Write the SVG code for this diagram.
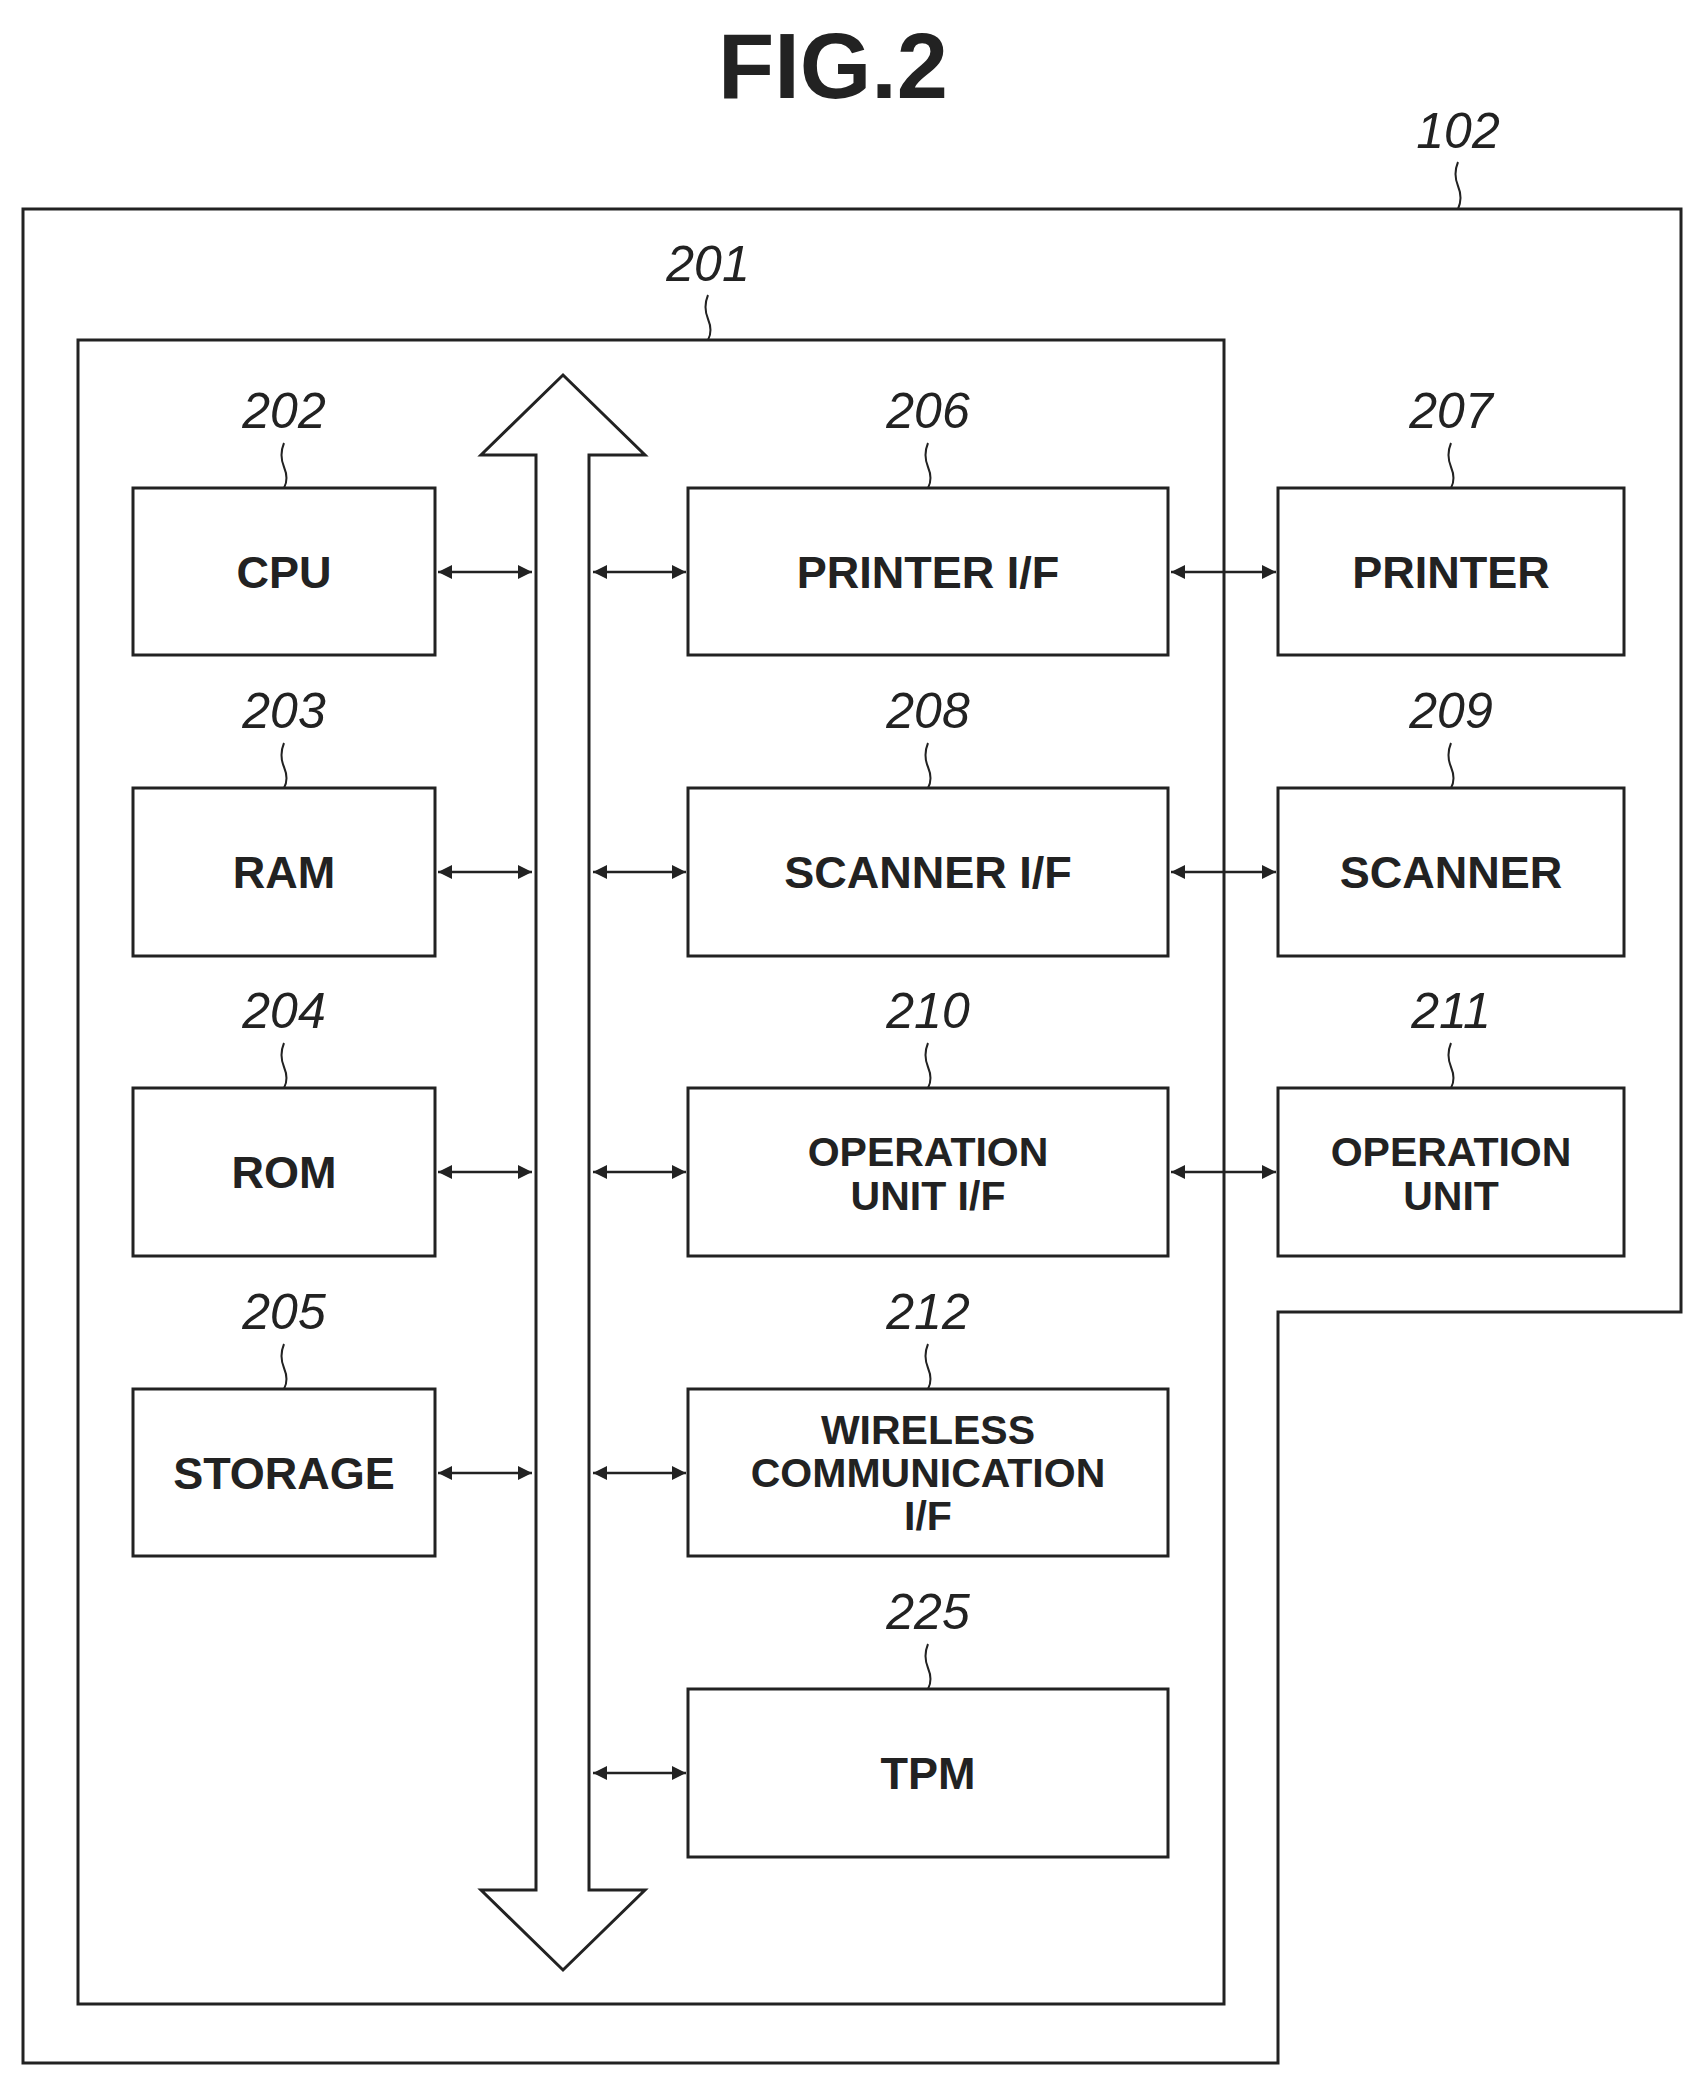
<svg xmlns="http://www.w3.org/2000/svg" width="1701" height="2082" viewBox="0 0 1701 2082">
<style>
.b{fill:#fff;stroke:#222;stroke-width:3}
.t{font-family:"Liberation Sans",Arial,sans-serif;font-weight:bold;font-size:45px;fill:#222;text-anchor:middle}
.m{font-size:41px}
.n{font-family:"Liberation Sans",Arial,sans-serif;font-style:italic;font-size:50px;fill:#222;text-anchor:middle}
.l{fill:none;stroke:#222;stroke-width:2}
.c{stroke:#222;stroke-width:2.5;marker-start:url(#a);marker-end:url(#a)}
</style>
<defs>
<marker id="a" viewBox="0 0 10 10" refX="10" refY="5" markerWidth="22" markerHeight="14" orient="auto-start-reverse" markerUnits="userSpaceOnUse"><path d="M0 0L10 5L0 10z" fill="#222"/></marker>
</defs>
<text x="833" y="98" style="font-family:'Liberation Sans',Arial,sans-serif;font-weight:bold;font-size:92px;fill:#222;text-anchor:middle">FIG.2</text>
<g id="n102">
<path class="b" d="M23 209H1681V1312H1278V2063H23Z" style="fill:none"/>
<text class="n" x="1458" y="148">102</text>
<path class="l" d="M1458 162q-5 12 0 24t0 23"/>
</g>
<g id="n201">
<rect class="b" x="78" y="340" width="1146" height="1664" style="fill:none"/>
<text class="n" x="708" y="281">201</text>
<path class="l" d="M708 295q-5 12 0 24t0 21"/>
</g>
<g id="bus">
<path class="b" d="M563 375L645 455H589V1890H645L563 1970L481 1890H536V455H481Z"/>
</g>
<g id="n202"><rect class="b" x="133" y="488" width="302" height="167"/><text class="t" x="284" y="588">CPU</text><text class="n" x="284" y="428">202</text><path class="l" d="M284 443q-5 12 0 24t0 21"/></g>
<g id="n203"><rect class="b" x="133" y="788" width="302" height="168"/><text class="t" x="284" y="888">RAM</text><text class="n" x="284" y="728">203</text><path class="l" d="M284 743q-5 12 0 24t0 21"/></g>
<g id="n204"><rect class="b" x="133" y="1088" width="302" height="168"/><text class="t" x="284" y="1188">ROM</text><text class="n" x="284" y="1028">204</text><path class="l" d="M284 1043q-5 12 0 24t0 21"/></g>
<g id="n205"><rect class="b" x="133" y="1389" width="302" height="167"/><text class="t" x="284" y="1489">STORAGE</text><text class="n" x="284" y="1329">205</text><path class="l" d="M284 1344q-5 12 0 24t0 21"/></g>
<g id="n206"><rect class="b" x="688" y="488" width="480" height="167"/><text class="t" x="928" y="588">PRINTER I/F</text><text class="n" x="928" y="428">206</text><path class="l" d="M928 443q-5 12 0 24t0 21"/></g>
<g id="n208"><rect class="b" x="688" y="788" width="480" height="168"/><text class="t" x="928" y="888">SCANNER I/F</text><text class="n" x="928" y="728">208</text><path class="l" d="M928 743q-5 12 0 24t0 21"/></g>
<g id="n210"><rect class="b" x="688" y="1088" width="480" height="168"/><text class="t m" x="928" y="1166">OPERATION</text><text class="t m" x="928" y="1210">UNIT I/F</text><text class="n" x="928" y="1028">210</text><path class="l" d="M928 1043q-5 12 0 24t0 21"/></g>
<g id="n212"><rect class="b" x="688" y="1389" width="480" height="167"/><text class="t m" x="928" y="1444">WIRELESS</text><text class="t m" x="928" y="1487">COMMUNICATION</text><text class="t m" x="928" y="1530">I/F</text><text class="n" x="928" y="1329">212</text><path class="l" d="M928 1344q-5 12 0 24t0 21"/></g>
<g id="n225"><rect class="b" x="688" y="1689" width="480" height="168"/><text class="t" x="928" y="1789">TPM</text><text class="n" x="928" y="1629">225</text><path class="l" d="M928 1644q-5 12 0 24t0 21"/></g>
<g id="n207"><rect class="b" x="1278" y="488" width="346" height="167"/><text class="t" x="1451" y="588">PRINTER</text><text class="n" x="1451" y="428">207</text><path class="l" d="M1451 443q-5 12 0 24t0 21"/></g>
<g id="n209"><rect class="b" x="1278" y="788" width="346" height="168"/><text class="t" x="1451" y="888">SCANNER</text><text class="n" x="1451" y="728">209</text><path class="l" d="M1451 743q-5 12 0 24t0 21"/></g>
<g id="n211"><rect class="b" x="1278" y="1088" width="346" height="168"/><text class="t m" x="1451" y="1166">OPERATION</text><text class="t m" x="1451" y="1210">UNIT</text><text class="n" x="1451" y="1028">211</text><path class="l" d="M1451 1043q-5 12 0 24t0 21"/></g>
<g id="connectors">
<line class="c" x1="438" y1="572" x2="532" y2="572"/>
<line class="c" x1="438" y1="872" x2="532" y2="872"/>
<line class="c" x1="438" y1="1172" x2="532" y2="1172"/>
<line class="c" x1="438" y1="1473" x2="532" y2="1473"/>
<line class="c" x1="593" y1="572" x2="686" y2="572"/>
<line class="c" x1="593" y1="872" x2="686" y2="872"/>
<line class="c" x1="593" y1="1172" x2="686" y2="1172"/>
<line class="c" x1="593" y1="1473" x2="686" y2="1473"/>
<line class="c" x1="593" y1="1773" x2="686" y2="1773"/>
<line class="c" x1="1171" y1="572" x2="1276" y2="572"/>
<line class="c" x1="1171" y1="872" x2="1276" y2="872"/>
<line class="c" x1="1171" y1="1172" x2="1276" y2="1172"/>
</g>
</svg>
